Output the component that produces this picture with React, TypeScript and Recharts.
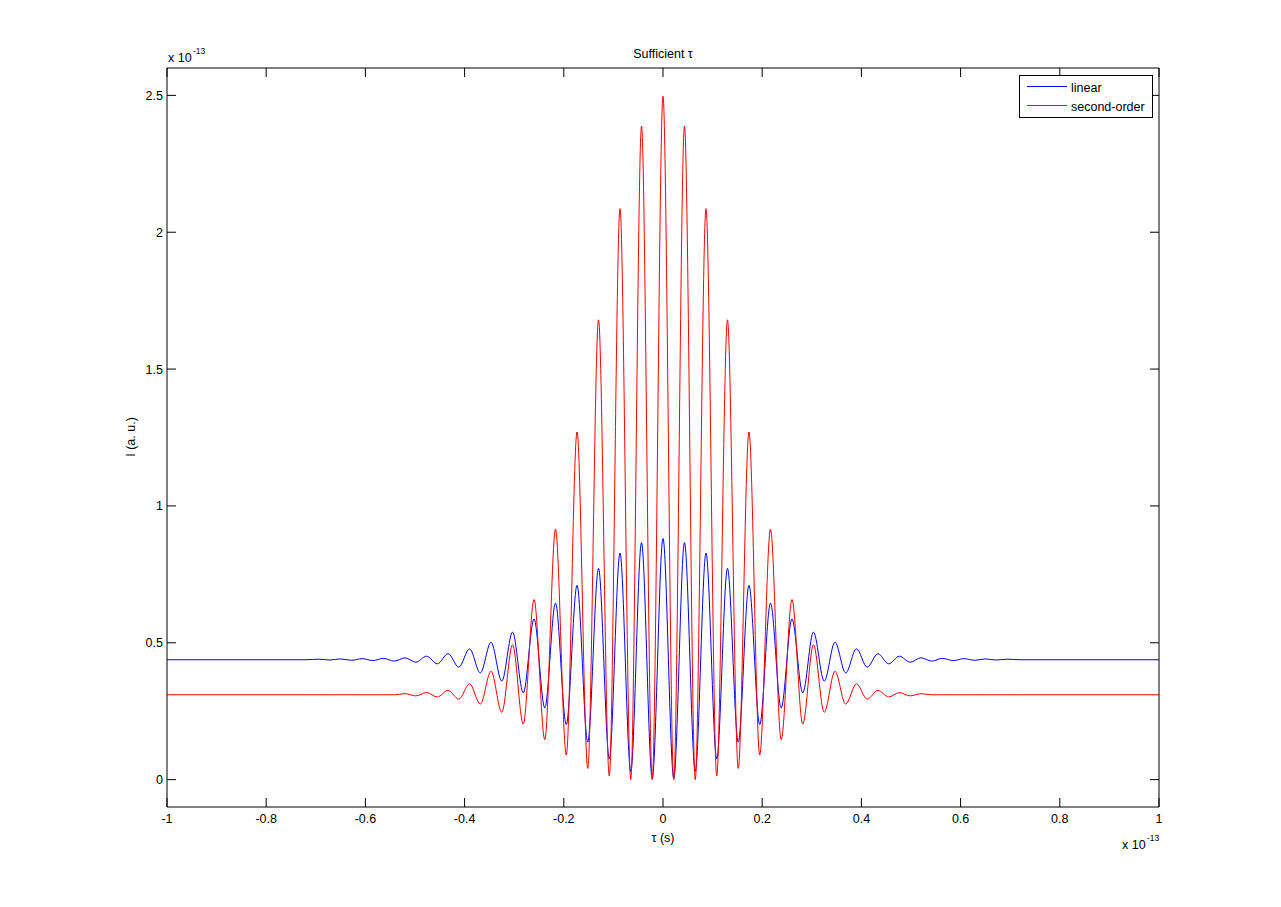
import { LineChart, Line, XAxis, YAxis } from "recharts"

// tau positions (x 1e-13 s) at the peaks / troughs
const tau = [
  -1, -0.72, -0.6933, -0.6717, -0.65, -0.6283, -0.6067, -0.585, -0.5633, -0.5417, -0.52, -0.4983,
  -0.4767, -0.455, -0.4333, -0.4117, -0.39, -0.3683, -0.3467, -0.325, -0.3033, -0.2817, -0.26,
  -0.2383, -0.2167, -0.195, -0.1733, -0.1517, -0.13, -0.1083, -0.0867, -0.065, -0.0433, -0.0217,
  0,
  0.0217, 0.0433, 0.065, 0.0867, 0.1083, 0.13, 0.1517, 0.1733, 0.195, 0.2167, 0.2383, 0.26,
  0.2817, 0.3033, 0.325, 0.3467, 0.3683, 0.39, 0.4117, 0.4333, 0.455, 0.4767, 0.4983, 0.52,
  0.5417, 0.5633, 0.585, 0.6067, 0.6283, 0.65, 0.6717, 0.6933, 0.72, 1,
]

// I (a. u.) x 1e-13
const linear = [
  0.438, 0.438, 0.44, 0.437, 0.441, 0.436, 0.442, 0.435, 0.443, 0.433, 0.445, 0.429,
  0.451, 0.423, 0.46, 0.411, 0.478, 0.39, 0.502, 0.36, 0.539, 0.317, 0.587,
  0.262, 0.645, 0.201, 0.71, 0.137, 0.772, 0.076, 0.828, 0.03, 0.866, 0.005,
  0.881,
  0.005, 0.866, 0.03, 0.828, 0.076, 0.772, 0.137, 0.71, 0.201, 0.645, 0.262, 0.587,
  0.317, 0.539, 0.36, 0.502, 0.39, 0.478, 0.411, 0.46, 0.423, 0.451, 0.429, 0.445,
  0.433, 0.443, 0.435, 0.442, 0.436, 0.441, 0.437, 0.44, 0.438, 0.438,
]

const secondOrder = [
  0.31, 0.31, 0.31, 0.31, 0.31, 0.31, 0.31, 0.31, 0.31, 0.31, 0.314, 0.306,
  0.318, 0.302, 0.326, 0.294, 0.35, 0.276, 0.396, 0.246, 0.493, 0.203, 0.658,
  0.146, 0.915, 0.09, 1.27, 0.041, 1.68, 0.013, 2.086, 0, 2.388, 0,
  2.497,
  0, 2.388, 0, 2.086, 0.013, 1.68, 0.041, 1.27, 0.09, 0.915, 0.146, 0.658,
  0.203, 0.493, 0.246, 0.396, 0.276, 0.35, 0.294, 0.326, 0.302, 0.318, 0.306, 0.314,
  0.31, 0.31, 0.31, 0.31, 0.31, 0.31, 0.31, 0.31, 0.31, 0.31,
]

const xTicks = [-1, -0.8, -0.6, -0.4, -0.2, 0, 0.2, 0.4, 0.6, 0.8, 1]
const yTicks = [0, 0.5, 1, 1.5, 2, 2.5]

const data = tau.map((t, i) => ({ tau: t, linear: linear[i], second: secondOrder[i] }))

const FONT = '"Liberation Sans", Arial, Helvetica, sans-serif'
const TICK = 9

// MATLAB-style ticks: short marks pointing into the box
const BottomTick = ({ x, y, payload }: any) => (
  <g>
    <line x1={x} x2={x} y1={y} y2={y - TICK} stroke="#000" />
    <text x={x} y={y + 16} textAnchor="middle" fill="#000" fontSize={12.5} fontFamily={FONT}>
      {String(payload.value)}
    </text>
  </g>
)
const TopTick = ({ x, y }: any) => <line x1={x} x2={x} y1={y} y2={y + TICK} stroke="#000" />
const LeftTick = ({ x, y, payload }: any) => (
  <g>
    <line x1={x} x2={x + TICK} y1={y} y2={y} stroke="#000" />
    <text x={x - 4} y={y + 4.5} textAnchor="end" fill="#000" fontSize={12.5} fontFamily={FONT}>
      {String(payload.value)}
    </text>
  </g>
)
const RightTick = ({ x, y }: any) => <line x1={x} x2={x - TICK} y1={y} y2={y} stroke="#000" />

export default function App() {
  return (
    <div style={{ position: "absolute", left: 0, top: 0, width: 1281, height: 907, background: "#fff" }}>
      <LineChart
        width={1281}
        height={907}
        data={data}
        margin={{ top: 67, right: 121, bottom: 80, left: 0 }}
        style={{ fontFamily: FONT }}
      >
        <XAxis
          dataKey="tau"
          type="number"
          domain={[-1, 1]}
          ticks={xTicks}
          interval={0}
          height={20}
          tickSize={0}
          tickMargin={0}
          tickLine={false}
          tick={<BottomTick />}
          stroke="#000"
          allowDataOverflow
        />
        <XAxis
          xAxisId="top"
          orientation="top"
          dataKey="tau"
          type="number"
          domain={[-1, 1]}
          ticks={xTicks}
          interval={0}
          height={1}
          tickSize={0}
          tickMargin={0}
          tickLine={false}
          tick={<TopTick />}
          stroke="#000"
          allowDataOverflow
        />
        <YAxis
          type="number"
          domain={[-0.1, 2.6]}
          ticks={yTicks}
          interval={0}
          width={167}
          tickSize={0}
          tickMargin={0}
          tickLine={false}
          tick={<LeftTick />}
          stroke="#000"
          allowDataOverflow
        />
        <YAxis
          yAxisId="right"
          orientation="right"
          type="number"
          domain={[-0.1, 2.6]}
          ticks={yTicks}
          interval={0}
          width={1}
          tickSize={0}
          tickMargin={0}
          tickLine={false}
          tick={<RightTick />}
          stroke="#000"
          allowDataOverflow
        />
        <Line
          dataKey="linear"
          type="monotone"
          stroke="#0000ff"
          strokeWidth={1}
          dot={false}
          activeDot={false}
          isAnimationActive={false}
        />
        <Line
          dataKey="second"
          type="monotone"
          stroke="#ff0000"
          strokeWidth={1}
          dot={false}
          activeDot={false}
          isAnimationActive={false}
        />
      </LineChart>

      <svg
        width={1281}
        height={907}
        style={{ position: "absolute", left: 0, top: 0, pointerEvents: "none" }}
        fontFamily={FONT}
        fontSize={12.5}
      >
        <text x={663} y={58} textAnchor="middle">Sufficient τ</text>
        <text x={168} y={61.5}>x 10</text>
        <text x={193} y={54} fontSize={8.5}>-13</text>
        <text x={663} y={841.5} textAnchor="middle">τ (s)</text>
        <text x={1122} y={848.5}>x 10</text>
        <text x={1147} y={841} fontSize={8.5}>-13</text>
        <text x={135} y={437} textAnchor="middle" transform="rotate(-90, 135, 437)">I (a. u.)</text>

        <rect x={1019.5} y={75.5} width={133} height={42} fill="#fff" stroke="#000" />
        <line x1={1027} x2={1067} y1={86.5} y2={86.5} stroke="#0000ff" />
        <text x={1071} y={91.5}>linear</text>
        <line x1={1027} x2={1067} y1={105.5} y2={105.5} stroke="#ff0000" />
        <text x={1071} y={110.5}>second-order</text>
      </svg>
    </div>
  )
}
